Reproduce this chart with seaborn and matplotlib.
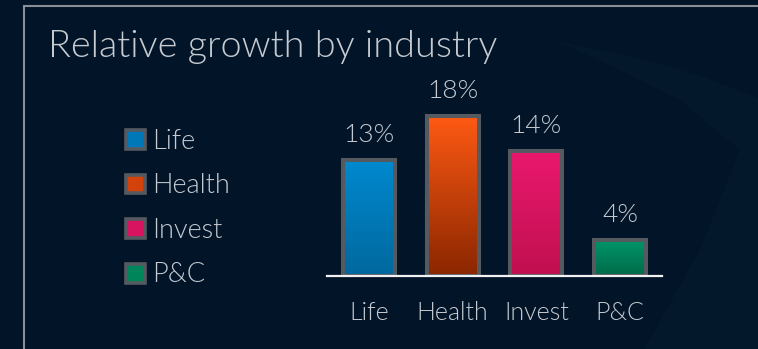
import numpy as np
import pandas as pd
import matplotlib
matplotlib.use("Agg")
import matplotlib.pyplot as plt
import seaborn as sns
from matplotlib.patches import Patch, Rectangle, Polygon
from matplotlib.colors import LinearSegmentedColormap

# ---- data ----
categories = ["Life", "Health", "Invest", "P&C"]
growth = [13, 18, 14, 4]
top_colors = ["#0089cf", "#ff5a14", "#ea186e", "#00956a"]
bottom_colors = ["#00689e", "#8a2600", "#c0104f", "#006a47"]
legend_colors = ["#0078b8", "#d4420c", "#d81460", "#00845a"]

BG = "#021428"
TEXT = "#c6cbd1"
EDGE = "#555a60"

sns.set_theme(style="white")
plt.rcParams["font.family"] = ["Lato", "DejaVu Sans"]
plt.rcParams["font.weight"] = 300

W, H = 758, 349
fig = plt.figure(figsize=(W / 100, H / 100), dpi=100, facecolor=BG)

# faint lighter sweep in the lower-right corner of the backdrop
sweep = [(560, 42), (640, 58), (700, 76), (758, 98), (758, 349), (645, 349),
         (700, 250), (740, 150), (680, 100), (620, 70)]
fig.add_artist(Polygon([(x / W, 1 - y / H) for x, y in sweep], closed=True,
                       transform=fig.transFigure, facecolor="#0a2036",
                       edgecolor="none", alpha=0.35, zorder=0))

ax = fig.add_axes([327 / W, 73 / H, 335 / W, 178 / H])
ax.set_facecolor("none")

df = pd.DataFrame({"industry": categories, "growth": growth})
sns.barplot(data=df, x="industry", y="growth", ax=ax, width=0.62,
            color=top_colors[0], edgecolor=EDGE, linewidth=2.9, zorder=3)

# vertical gradient fill clipped to each bar
for patch, c_top, c_bot, val in zip(ax.patches, top_colors, bottom_colors, growth):
    x0 = patch.get_x()
    w = patch.get_width()
    cmap = LinearSegmentedColormap.from_list("g", [c_bot, c_top])
    grad = np.linspace(0, 1, 256).reshape(-1, 1)
    im = ax.imshow(grad, cmap=cmap, origin="lower", aspect="auto",
                   extent=(x0, x0 + w, 0, val), zorder=2)
    im.set_clip_path(patch)
    patch.set_facecolor("none")
    ax.annotate(f"{val}%", (x0 + w / 2, val), xytext=(0, 13),
                textcoords="offset points", ha="center", va="baseline",
                fontsize=19, color=TEXT, fontweight=300)

ax.set_xlim(-0.5, 3.5)
ax.set_ylim(0, 20)

# baseline
sns.despine(ax=ax, left=True, top=True, right=True)
ax.spines["bottom"].set_color("#f2f2f2")
ax.spines["bottom"].set_linewidth(1.6)
ax.spines["bottom"].set_zorder(5)
ax.set_yticks([])
ax.set_xlabel("")
ax.set_ylabel("")
ax.tick_params(axis="x", length=0, pad=18, labelsize=18, labelcolor=TEXT)

# legend
handles = [Patch(facecolor=c, edgecolor=EDGE, linewidth=2.6, label=l)
           for c, l in zip(legend_colors, categories)]
fig.legend(handles=handles, loc="upper left",
           bbox_to_anchor=(126 / W, 1 - 129 / H), frameon=False,
           labelcolor=TEXT, handlelength=0.7, handleheight=0.7,
           handletextpad=0.28, labelspacing=0.72, borderpad=0, borderaxespad=0,
           prop={"weight": 300, "size": 19.5})

# title
fig.text(48 / W, 1 - 57 / H, "Relative growth by industry", fontsize=27.3,
         color=TEXT, ha="left", va="baseline", fontweight=300)

# frame
fig.add_artist(Rectangle((24 / W, -0.1), 2.0, 1 - 6 / H + 0.1,
                         transform=fig.transFigure, fill=False,
                         edgecolor="#8a8f96", linewidth=1.5))

fig.savefig("out.png", dpi=100, facecolor=BG)
